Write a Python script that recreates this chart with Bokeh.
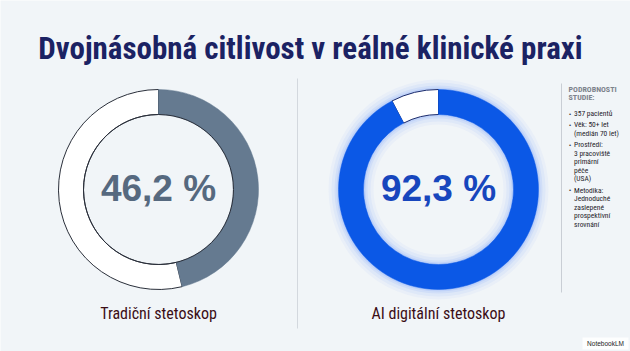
import math
from bokeh.plotting import figure
from bokeh.models import Range1d, ColumnDataSource
from bokeh.core.properties import value
from bokeh.embed import file_html
from bokeh.resources import INLINE

# ---- data ----
title_text = "Dvojnásobná citlivost v reálné klinické praxi"
methods = ["Tradiční stetoskop", "AI digitální stetoskop"]
sensitivity = [46.2, 92.3]
value_labels = ["46,2 %", "92,3 %"]
panel_heading = ["PODROBNOSTI", "STUDIE:"]
panel_items = [
    ["357 pacientů"],
    ["Věk: 50+ let", "(medián 70 let)"],
    ["Prostředí:", "3 pracoviště", "primární", "péče", "(USA)"],
    ["Metodika:", "Jednoduché", "zaslepené", "prospektivní", "srovnání"],
]

COND = "Roboto Condensed, DejaVu Sans Condensed, Roboto"

W, H = 630, 351
BG = "#f1f5f8"
p = figure(width=W, height=H, x_range=Range1d(0, W), y_range=Range1d(0, H),
           output_backend="svg", toolbar_location=None, min_border=0)
p.axis.visible = False
p.grid.visible = False
p.outline_line_color = None
p.background_fill_color = BG
p.border_fill_color = BG

def Y(py):
    return H - py

cx = [158, 438]
cy = Y(189)
R_OUT, R_IN = 100, 75
ring_colors = ["#657a90", "#0b58e6"]
text_colors = ["#56697f", "#1746bd"]
start = math.pi / 2

# dividers
p.segment(x0=[297], y0=[Y(78)], x1=[297], y1=[Y(328)], line_color="#d3d8de", line_width=1)
p.segment(x0=[561], y0=[Y(83)], x1=[561], y1=[Y(292)], line_color="#c9ced5", line_width=1)

# glow for AI ring
for k, a in [(10, 0.05), (7, 0.07), (4, 0.10), (2, 0.14)]:
    p.annulus(x=[cx[1]], y=[cy], inner_radius=R_IN - k, outer_radius=R_OUT + k,
              fill_color="#5b8cff", fill_alpha=a, line_color=None)

for i, s in enumerate(sensitivity):
    frac = s / 100.0
    end = start - 2 * math.pi * frac
    p.annular_wedge(x=[cx[i]], y=[cy], inner_radius=R_IN, outer_radius=R_OUT,
                    start_angle=end, end_angle=start - 2 * math.pi, direction="clock",
                    fill_color="#ffffff", line_color="#2a2f3a" if i == 0 else "#1b2b6b",
                    line_width=1)
    p.annular_wedge(x=[cx[i]], y=[cy], inner_radius=R_IN, outer_radius=R_OUT,
                    start_angle=start, end_angle=end, direction="clock",
                    fill_color=ring_colors[i], line_color=ring_colors[i], line_width=0.5)
    if i == 0:
        p.circle(x=[cx[i]], y=[cy], radius=R_IN, fill_color=None, line_color="#2a2f3a", line_width=1)

src = ColumnDataSource(dict(x=cx, y=[cy + 1, cy + 1], t=value_labels, c=text_colors))
p.text(x="x", y="y", text="t", text_color="c", source=src, text_align="center",
       text_baseline="middle", text_font=value("Liberation Sans"), text_font_style="bold",
       text_font_size="37px")

src2 = ColumnDataSource(dict(x=cx, y=[Y(313), Y(313)], t=methods))
p.text(x="x", y="y", text="t", source=src2, text_align="center", text_baseline="middle",
       text_color="#3b0d16", text_font=value(COND), text_font_size="16px")

# title
p.text(x=[310], y=[Y(48)], text=[title_text], text_align="center", text_baseline="middle",
       text_color="#1b2263", text_font=value(COND), text_font_style="bold",
       text_font_size="31px")

# side panel
hx, hy = [], []
y0 = 89
for j, h in enumerate(panel_heading):
    hx.append(568); hy.append(Y(y0 + j * 7.5))
p.text(x=hx, y=hy, text=panel_heading, text_align="left", text_baseline="middle",
       text_color="#7d838c", text_font=value(COND), text_font_style="bold",
       text_font_size="8px")

bx, by, lx, ly, lt = [], [], [], [], []
yy = 113
for item in panel_items:
    bx.append(568.5); by.append(Y(yy))
    for line in item:
        lx.append(573.5); ly.append(Y(yy)); lt.append(line)
        yy += 8.6
    yy += 2.6
p.text(x=bx, y=by, text=["•"] * len(bx), text_align="left", text_baseline="middle",
       text_color="#3a3f47", text_font=value("Liberation Sans"), text_font_size="6px")
p.text(x=lx, y=ly, text=lt, text_align="left", text_baseline="middle",
       text_color="#1f232a", text_font=value(COND), text_font_size="7.5px")

# watermark
p.quad(left=[582], right=[628], bottom=[Y(349)], top=[Y(337)], fill_color="#ffffff",
       fill_alpha=0.85, line_color=None)
p.text(x=[605], y=[Y(343)], text=["NotebookLM"], text_align="center", text_baseline="middle",
       text_color="#222222", text_font=value("Liberation Sans"), text_font_size="6.5px")

open("out.html", "w").write(file_html(p, INLINE))
